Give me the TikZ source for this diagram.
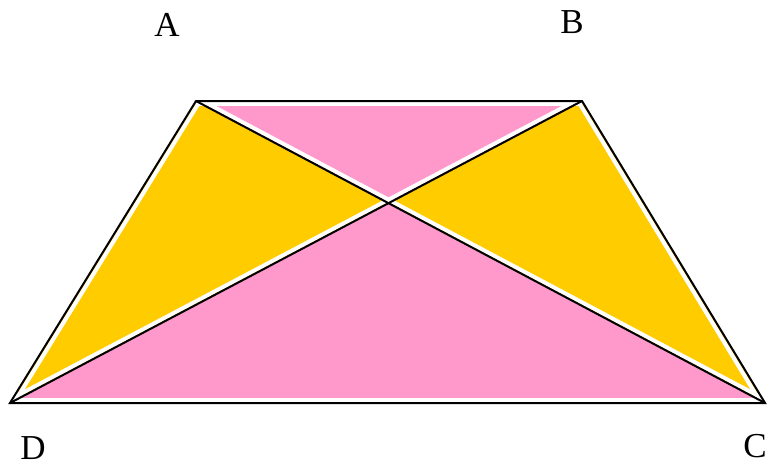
\documentclass[tikz,border=0pt]{standalone}
\usepackage{fontspec}
\setmainfont{Liberation Serif}
\begin{document}
\begin{tikzpicture}[x=1pt,y=-1pt,
  edge/.style={black,line width=2pt},
  gap/.style={white,line width=4pt},
  lbl/.style={font=\fontsize{35}{38}\selectfont,inner sep=0pt}]
\useasboundingbox (0,0) rectangle (768,466);
\coordinate (A) at (196,101);
\coordinate (B) at (582,101);
\coordinate (C) at (765,403);
\coordinate (D) at (10,403);
\coordinate (O) at (intersection of A--C and B--D);
\fill[fill={rgb,255:red,255;green,153;blue,204}] (A) -- (B) -- (O) -- cycle;
\fill[fill={rgb,255:red,255;green,153;blue,204}] (D) -- (C) -- (O) -- cycle;
\fill[fill={rgb,255:red,255;green,204;blue,0}] (A) -- (O) -- (D) -- cycle;
\fill[fill={rgb,255:red,255;green,204;blue,0}] (B) -- (O) -- (C) -- cycle;
\draw[gap] ([yshift=3.5pt]A) -- ([yshift=3.5pt]C);
\draw[gap] ([yshift=3.5pt]B) -- ([yshift=3.5pt]D);
\draw[gap] ([yshift=-3pt]A) -- ([yshift=-3pt]B);
\draw[gap] ([yshift=3pt]D) -- ([yshift=3pt]C);
\draw[gap] ([xshift=4pt]A) -- ([xshift=4pt]D);
\draw[gap] ([xshift=-4pt]B) -- ([xshift=-4pt]C);
\draw[edge,line join=miter] (A) -- (B) -- (C) -- (D) -- cycle;
\draw[edge] (A) -- (C);
\draw[edge] (B) -- (D);
\node[lbl] (la) at (167,25) {A};
\node[lbl] (lb) at (572,22) {B};
\node[lbl] (ld) at (33,448) {D};
\node[lbl] (lc) at (755,446) {C};
\end{tikzpicture}
\end{document}
